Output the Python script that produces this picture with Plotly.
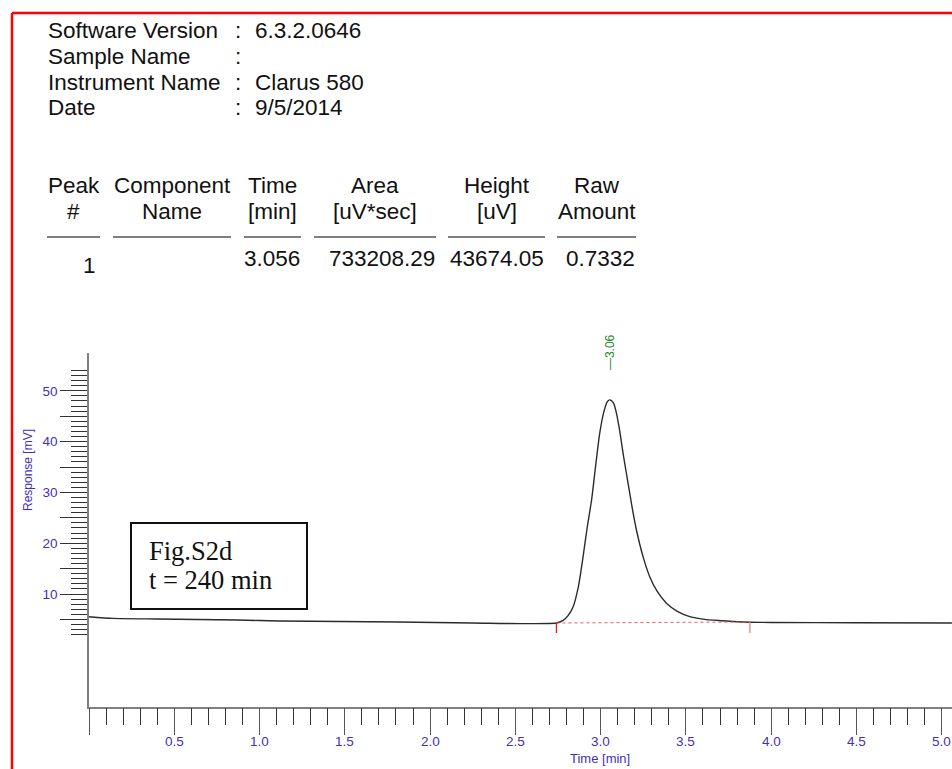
import plotly.graph_objects as go

# ---- report header -------------------------------------------------------
header_labels = ["Software Version", "Sample Name", "Instrument Name", "Date"]
header_values = ["6.3.2.0646", "", "Clarus 580", "9/5/2014"]

# ---- peak table ----------------------------------------------------------
table_head_1 = ["Peak", "Component", "Time", "Area", "Height", "Raw"]
table_head_2 = ["#", "Name", "[min]", "[uV*sec]", "[uV]", "Amount"]
table_row = ["1", "", "3.056", "733208.29", "43674.05", "0.7332"]

# ---- chromatogram trace (time in min, response in mV) --------------------
time_min = [0.00, 0.14, 0.40, 0.87, 1.12, 1.81, 2.25, 2.74,
            2.78, 2.81, 2.839, 2.87, 2.897, 2.92, 2.947, 2.97, 2.995,
            3.02, 3.04, 3.056, 3.075, 3.09, 3.111, 3.135, 3.161, 3.185,
            3.21, 3.25, 3.288, 3.33, 3.386, 3.45, 3.523, 3.62, 3.716,
            3.80, 3.875, 4.00, 4.50, 5.06]
response_mv = [5.53, 5.20, 5.08, 4.88, 4.68, 4.49, 4.29, 4.28,
               4.8, 5.8, 7.5, 11.5, 17.3, 22.8, 28.5, 35.0, 41.7,
               46.0, 47.9, 48.2, 47.6, 46.0, 42.3, 37.0, 31.8, 27.0,
               22.6, 17.2, 13.4, 10.6, 8.2, 6.6, 5.55, 4.95, 4.74,
               4.55, 4.45, 4.40, 4.35, 4.30]

# ---- integration baseline and peak marker -------------------------------
peak_start = [2.741, 4.29]
peak_end = [3.875, 4.49]
marker_bottom = 2.3
peak_time = 3.056
peak_apex = 48.2
peak_label = "3.06"

x_ticks = [0.0, 0.5, 1.0, 1.5, 2.0, 2.5, 3.0, 3.5, 4.0, 4.5, 5.0]
x_ticktext = ["", "0.5", "1.0", "1.5", "2.0", "2.5", "3.0", "3.5", "4.0", "4.5", "5.0"]
y_ticks = [5, 10, 15, 20, 25, 30, 35, 40, 45, 50]
y_ticktext = ["", "10", "", "20", "", "30", "", "40", "", "50"]
y_minor = [v for v in range(2, 55) if v % 5 != 0]

W, H = 952, 769
AXIS_BLUE = "#3F2FBF"
SANS = "Liberation Sans, Arial, sans-serif"
SERIF = "Liberation Serif, Times New Roman, serif"
TXT = 22.5


def px(x):
    return x / W


def py(y):
    return 1 - y / H


fig = go.Figure()

fig.add_trace(go.Scatter(
    x=time_min, y=response_mv, mode="lines",
    line=dict(color="#2b2b2b", width=1.4, shape="spline", smoothing=0.6),
    hoverinfo="skip", showlegend=False))

# dotted red integration baseline
fig.add_trace(go.Scatter(
    x=[peak_start[0], peak_end[0]], y=[peak_start[1], peak_end[1]],
    mode="lines", line=dict(color="#f05a5a", width=1, dash="dot"),
    hoverinfo="skip", showlegend=False))

# start / end markers of the integrated peak
fig.add_trace(go.Scatter(
    x=[peak_start[0], peak_start[0]], y=[peak_start[1], marker_bottom],
    mode="lines", line=dict(color="#e02020", width=1.3),
    hoverinfo="skip", showlegend=False))
fig.add_trace(go.Scatter(
    x=[peak_end[0], peak_end[0]], y=[peak_end[1], marker_bottom],
    mode="lines", line=dict(color="#f08080", width=1.3),
    hoverinfo="skip", showlegend=False))

annotations = []
shapes = []

# header block
for i, (lab, val) in enumerate(zip(header_labels, header_values)):
    yc = 31 + i * 25.6
    annotations.append(dict(x=px(46), y=py(yc), xref="paper", yref="paper",
                            text=lab, showarrow=False, xanchor="left", yanchor="middle",
                            font=dict(family=SANS, size=TXT, color="#111")))
    annotations.append(dict(x=px(233), y=py(yc), xref="paper", yref="paper",
                            text=":", showarrow=False, xanchor="left", yanchor="middle",
                            font=dict(family=SANS, size=TXT, color="#111")))
    if val:
        annotations.append(dict(x=px(253), y=py(yc), xref="paper", yref="paper",
                                text=val, showarrow=False, xanchor="left", yanchor="middle",
                                font=dict(family=SANS, size=TXT, color="#111")))

# table columns (pixel extents of each underline)
col_left = [47, 113, 244, 314, 448, 557]
col_right = [100, 231, 301, 436, 545, 636]
for h1, h2, val, l, r in zip(table_head_1, table_head_2, table_row, col_left, col_right):
    c = (l + r) / 2
    annotations.append(dict(x=px(c), y=py(185), xref="paper", yref="paper", text=h1,
                            showarrow=False, xanchor="center", yanchor="middle",
                            font=dict(family=SANS, size=TXT, color="#111")))
    annotations.append(dict(x=px(c), y=py(211), xref="paper", yref="paper", text=h2,
                            showarrow=False, xanchor="center", yanchor="middle",
                            font=dict(family=SANS, size=TXT, color="#111")))
    shapes.append(dict(type="line", xref="paper", yref="paper",
                       x0=px(l), x1=px(r), y0=py(237), y1=py(237),
                       line=dict(color="#555", width=1.3)))
    if val:
        first = val == table_row[0]
        vy = 265 if first else 258
        rr = r - 2 if first else r + 1
        annotations.append(dict(x=px(rr), y=py(vy), xref="paper", yref="paper", text=val,
                                showarrow=False, xanchor="right", yanchor="middle",
                                font=dict(family=SANS, size=TXT, color="#111")))

# x tick labels, set just below the long tick marks
for tv, tt in zip(x_ticks, x_ticktext):
    if tt:
        annotations.append(dict(x=tv, y=py(741.5), xref="x", yref="paper", text=tt,
                                showarrow=False, xanchor="center", yanchor="middle",
                                font=dict(family=SANS, size=13.5, color=AXIS_BLUE)))

# peak retention-time label
annotations.append(dict(x=peak_time, y=peak_apex, xref="x", yref="y",
                        text="\u2014" + peak_label, textangle=-90, showarrow=False,
                        xanchor="center", yanchor="middle", yshift=48,
                        font=dict(family=SANS, size=12, color="#1f8a1f")))

# axis titles
annotations.append(dict(x=px(28), y=py(470), xref="paper", yref="paper",
                        text="Response [mV]", textangle=-90, showarrow=False,
                        xanchor="center", yanchor="middle",
                        font=dict(family=SANS, size=12, color=AXIS_BLUE)))
annotations.append(dict(x=px(600), y=py(758.5), xref="paper", yref="paper",
                        text="Time [min]", showarrow=False,
                        xanchor="center", yanchor="middle",
                        font=dict(family=SANS, size=13, color=AXIS_BLUE)))

# figure caption box
shapes.append(dict(type="rect", xref="paper", yref="paper",
                   x0=px(131), x1=px(307), y0=py(609), y1=py(523),
                   line=dict(color="#111", width=2), fillcolor="white", layer="above"))
annotations.append(dict(x=px(147), y=py(551), xref="paper", yref="paper",
                        text="Fig.S2d", showarrow=False, xanchor="left", yanchor="middle",
                        font=dict(family=SERIF, size=26.5, color="#111")))
annotations.append(dict(x=px(147), y=py(580), xref="paper", yref="paper",
                        text="t = 240 min", showarrow=False, xanchor="left", yanchor="middle",
                        font=dict(family=SERIF, size=26.5, color="#111")))

# red page frame
shapes.append(dict(type="line", xref="paper", yref="paper",
                   x0=px(12), x1=1.01, y0=py(13), y1=py(13),
                   line=dict(color="#ff0000", width=2.5)))
shapes.append(dict(type="line", xref="paper", yref="paper",
                   x0=px(12), x1=px(12), y0=py(13), y1=-0.01,
                   line=dict(color="#ff0000", width=2.5)))

x0_px, x5_px = 89.0, 941.7
min_per_px = 5.0 / (x5_px - x0_px)
y_axis_px, y_top_px = 706.7, 353.0
zero_px, ten_px = 644.8, 594.0
mv_per_px = 10.0 / (zero_px - ten_px)

fig.update_layout(
    width=W, height=H,
    margin=dict(l=0, r=0, t=0, b=0),
    paper_bgcolor="white", plot_bgcolor="white",
    showlegend=False,
    annotations=annotations, shapes=shapes,
    xaxis=dict(
        domain=[px(x0_px), 1.0],
        range=[0, (W - x0_px) * min_per_px],
        showgrid=False, zeroline=False,
        showline=True, linecolor="#808080", linewidth=1.5,
        ticks="outside", ticklen=27, tickwidth=1.2, tickcolor="#555",
        tickmode="array", tickvals=x_ticks, showticklabels=False,
        minor=dict(ticks="outside", ticklen=17, tickwidth=1, tickcolor="#333",
                   dtick=0.1, tick0=0, showgrid=False),
    ),
    yaxis=dict(
        domain=[py(y_axis_px), py(y_top_px)],
        range=[(zero_px - y_axis_px) * mv_per_px, (zero_px - y_top_px) * mv_per_px],
        showgrid=False, zeroline=False,
        showline=True, linecolor="#808080", linewidth=1.5,
        ticks="outside", ticklen=27, tickwidth=1.2, tickcolor="#333",
        tickmode="array", tickvals=y_ticks, ticktext=y_ticktext,
        tickfont=dict(family=SANS, size=13.5, color=AXIS_BLUE),
        minor=dict(ticks="outside", ticklen=16, tickwidth=1, tickcolor="#333",
                   tickmode="array", tickvals=y_minor, showgrid=False),
    ),
)

fig.write_html("out.html")
